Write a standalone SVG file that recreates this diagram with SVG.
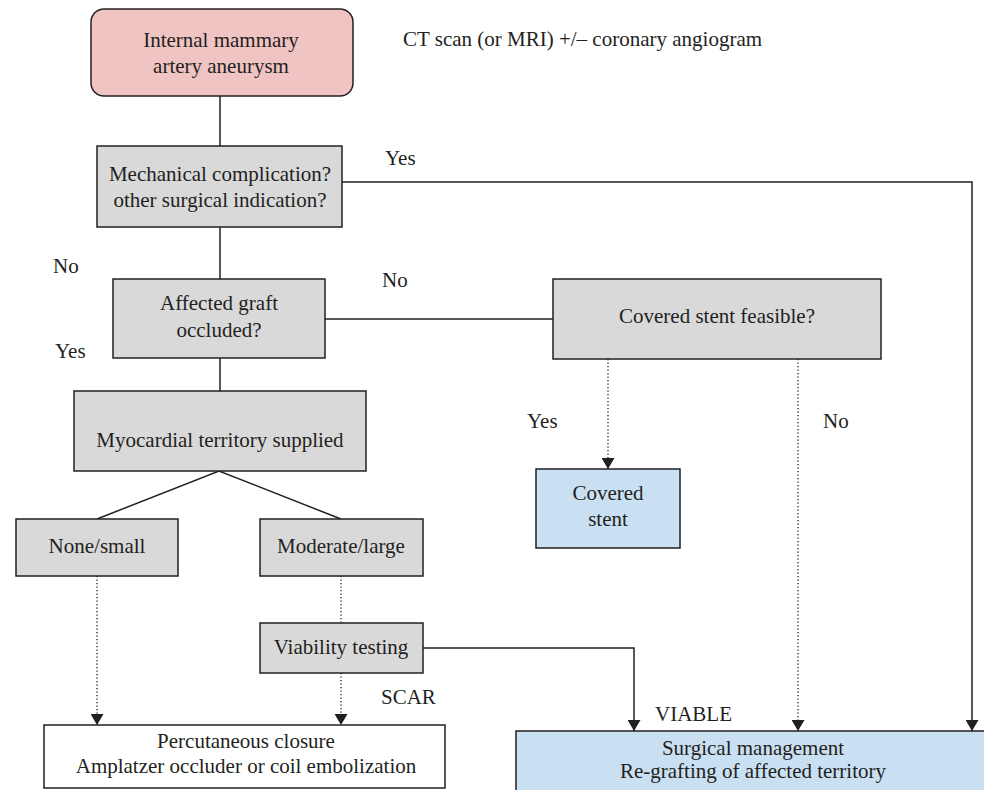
<svg xmlns="http://www.w3.org/2000/svg" width="984" height="790" viewBox="0 0 984 790">
<style>
text{font-family:'Liberation Serif','DejaVu Serif',serif;font-size:21px;fill:#231f20;text-anchor:middle}
.lbl{text-anchor:start}
.box{stroke:#231f20;stroke-width:1.5}
.gray{fill:#d9d9d9}
.pink{fill:#f0c4c2}
.blue{fill:#c9dff2}
.white{fill:#ffffff}
.ln{fill:none;stroke:#231f20;stroke-width:1.5}
.dot{fill:none;stroke:#231f20;stroke-width:1.3;stroke-dasharray:1.3 2.2}
</style>
<defs>
<marker id="arr" markerUnits="userSpaceOnUse" markerWidth="12" markerHeight="13" refX="11" refY="6.5" orient="auto">
<path d="M0,0 L11,6.5 L0,13 z" fill="#231f20"/>
</marker>
</defs>
<rect width="984" height="790" fill="#ffffff"/>
<g id="connectors">
<line class="ln" x1="220" y1="96" x2="220" y2="146"/>
<polyline class="ln" points="342,182 972,182 972,731" marker-end="url(#arr)"/>
<line class="ln" x1="220" y1="227" x2="220" y2="279"/>
<line class="ln" x1="325" y1="319" x2="553" y2="319"/>
<line class="ln" x1="220" y1="358" x2="220" y2="391"/>
<line class="dot" x1="608" y1="359" x2="608" y2="469" marker-end="url(#arr)"/>
<line class="dot" x1="798" y1="359" x2="798" y2="731" marker-end="url(#arr)"/>
<polyline class="ln" points="97,519 219,471 341,519"/>
<line class="dot" x1="97" y1="576" x2="97" y2="725" marker-end="url(#arr)"/>
<line class="dot" x1="341" y1="576" x2="341" y2="623"/>
<line class="dot" x1="341" y1="673" x2="341" y2="725" marker-end="url(#arr)"/>
<polyline class="ln" points="423,648 634,648 634,731" marker-end="url(#arr)"/>
</g>
<g id="labels">
<text x="403" y="46" class="lbl">CT scan (or MRI) +/– coronary angiogram</text>
<text x="385" y="165" class="lbl">Yes</text>
<text x="53" y="273" class="lbl">No</text>
<text x="382" y="287" class="lbl">No</text>
<text x="55" y="358" class="lbl">Yes</text>
<text x="527" y="428" class="lbl">Yes</text>
<text x="823" y="428" class="lbl">No</text>
<text x="381" y="704" class="lbl">SCAR</text>
<text x="655" y="721" class="lbl">VIABLE</text>
</g>
<g id="n_ima">
<rect class="box pink" x="91" y="9" width="262" height="87" rx="13"/>
<text x="221" y="47">Internal mammary</text>
<text x="221" y="73">artery aneurysm</text>
</g>
<g id="n_mech">
<rect class="box gray" x="97" y="146" width="245" height="81"/>
<text x="220" y="181">Mechanical complication?</text>
<text x="220" y="207">other surgical indication?</text>
</g>
<g id="n_occl">
<rect class="box gray" x="113" y="279" width="212" height="79"/>
<text x="219" y="310">Affected graft</text>
<text x="219" y="337">occluded?</text>
</g>
<g id="n_feas">
<rect class="box gray" x="553" y="279" width="328" height="80"/>
<text x="717" y="323">Covered stent feasible?</text>
</g>
<g id="n_myo">
<rect class="box gray" x="74" y="391" width="292" height="80"/>
<text x="220" y="447">Myocardial territory supplied</text>
</g>
<g id="n_cstent">
<rect class="box blue" x="536" y="469" width="144" height="79"/>
<text x="608" y="500">Covered</text>
<text x="608" y="526">stent</text>
</g>
<g id="n_small">
<rect class="box gray" x="16" y="519" width="162" height="57"/>
<text x="97" y="553">None/small</text>
</g>
<g id="n_large">
<rect class="box gray" x="260" y="519" width="163" height="57"/>
<text x="341" y="553">Moderate/large</text>
</g>
<g id="n_viab">
<rect class="box gray" x="260" y="623" width="163" height="50"/>
<text x="341" y="654">Viability testing</text>
</g>
<g id="n_perc">
<rect class="box white" x="44" y="725" width="401" height="63"/>
<text x="246" y="748">Percutaneous closure</text>
<text x="246" y="773">Amplatzer occluder or coil embolization</text>
</g>
<g id="n_surg">
<rect class="box blue" x="516" y="731" width="480" height="70"/>
<text x="753" y="755">Surgical management</text>
<text x="753" y="778">Re-grafting of affected territory</text>
</g>
</svg>
